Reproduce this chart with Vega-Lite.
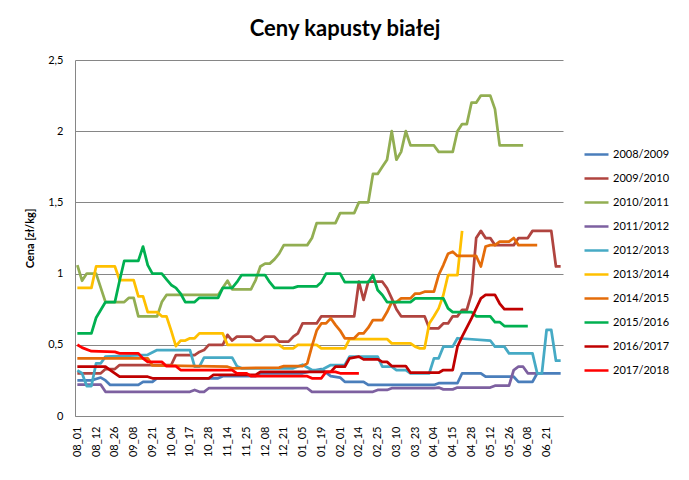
{
  "$schema": "https://vega.github.io/schema/vega-lite/v6.json",
  "width": 488,
  "height": 356,
  "autosize": "none",
  "padding": {"left": 75, "top": 60, "right": 126, "bottom": 64},
  "background": "white",
  "title": {"text": "Ceny kapusty białej", "font": "Lato", "fontSize": 22, "fontWeight": "bold", "color": "#000000", "anchor": "middle", "dx": 26, "offset": 13},
  "config": {"view": {"stroke": null}, "font": "Lato"},
  "data": {"values": []},
  "datasets": {
    "pts": [
      {"s":"2008/2009","p":[[0,0.25],[3,0.25],[5,0.27],[6,0.25],[7,0.218],[13,0.218],[14,0.24],[16,0.24],[17,0.265],[30,0.265],[31,0.28],[38,0.28],[39,0.3],[48,0.3],[52,0.33],[54,0.28],[56,0.27],[57,0.24],[61,0.24],[62,0.218],[76,0.218],[77,0.23],[81,0.23],[82,0.3],[86,0.3],[87,0.276],[93,0.276],[94,0.24],[97,0.24],[98,0.3],[103,0.3]]},
      {"s":"2009/2010","p":[[0,0.3],[5,0.3],[6,0.33],[8,0.33],[9,0.358],[20,0.358],[21,0.428],[25,0.428],[26,0.45],[27,0.463],[28,0.5],[31,0.5],[32,0.57],[33,0.53],[34,0.557],[37,0.557],[38,0.53],[39,0.53],[40,0.557],[42,0.557],[43,0.522],[45,0.522],[46,0.557],[47,0.58],[48,0.65],[51,0.65],[52,0.7],[59,0.7],[60,0.943],[61,0.815],[62,0.943],[65,0.943],[66,0.897],[67,0.826],[68,0.75],[69,0.7],[74,0.7],[75,0.616],[77,0.616],[78,0.65],[79,0.65],[80,0.7],[81,0.7],[82,0.745],[83,0.745],[84,0.86],[85,1.25],[86,1.3],[87,1.25],[88,1.25],[89,1.2],[93,1.2],[94,1.25],[96,1.25],[97,1.3],[101,1.3],[102,1.05],[103,1.05]]},
      {"s":"2010/2011","p":[[0,1.06],[1,0.95],[2,1.0],[4,1.0],[6,0.8],[10,0.8],[11,0.83],[12,0.83],[13,0.7],[17,0.7],[18,0.8],[19,0.85],[30,0.85],[31,0.9],[32,0.95],[33,0.89],[37,0.89],[38,0.955],[39,1.05],[40,1.07],[41,1.07],[42,1.1],[43,1.14],[44,1.2],[49,1.2],[50,1.25],[51,1.355],[55,1.355],[56,1.425],[59,1.425],[60,1.5],[62,1.5],[63,1.7],[64,1.7],[65,1.75],[66,1.8],[67,2.0],[68,1.8],[69,1.855],[70,2.0],[71,1.9],[76,1.9],[77,1.855],[80,1.855],[81,2.0],[82,2.05],[83,2.05],[84,2.2],[85,2.2],[86,2.25],[88,2.25],[89,2.155],[90,1.9],[95,1.9]]},
      {"s":"2011/2012","p":[[0,0.22],[5,0.22],[6,0.17],[24,0.17],[25,0.183],[26,0.17],[27,0.17],[28,0.195],[49,0.195],[50,0.17],[63,0.17],[64,0.183],[66,0.183],[67,0.195],[76,0.195],[77,0.2],[78,0.187],[80,0.187],[81,0.2],[88,0.2],[89,0.213],[92,0.213],[93,0.323],[94,0.346],[95,0.346],[96,0.3],[98,0.3]]},
      {"s":"2012/2013","p":[[0,0.32],[1,0.3],[2,0.21],[3,0.21],[4,0.37],[5,0.37],[6,0.417],[15,0.43],[17,0.463],[24,0.463],[25,0.346],[26,0.346],[27,0.41],[33,0.41],[34,0.35],[35,0.335],[46,0.335],[48,0.36],[50,0.323],[52,0.323],[54,0.358],[57,0.358],[58,0.417],[64,0.417],[65,0.346],[67,0.346],[68,0.323],[70,0.323],[71,0.3],[75,0.3],[76,0.405],[77,0.405],[78,0.487],[80,0.487],[81,0.546],[88,0.53],[89,0.487],[91,0.487],[92,0.44],[97,0.44],[98,0.3],[99,0.3],[100,0.604],[101,0.604],[102,0.388],[103,0.388]]},
      {"s":"2013/2014","p":[[0,0.9],[3,0.9],[4,1.05],[8,1.05],[9,0.955],[12,0.955],[13,0.84],[14,0.84],[15,0.73],[17,0.73],[18,0.7],[19,0.7],[20,0.6],[21,0.49],[22,0.53],[23,0.53],[24,0.546],[25,0.546],[26,0.58],[31,0.58],[32,0.5],[43,0.5],[44,0.475],[46,0.475],[47,0.5],[51,0.5],[52,0.475],[57,0.475],[58,0.54],[66,0.54],[67,0.51],[71,0.51],[72,0.487],[73,0.475],[74,0.475],[75,0.65],[76,0.7],[77,0.756],[78,0.85],[79,0.99],[81,0.99],[82,1.3]]},
      {"s":"2014/2015","p":[[0,0.405],[15,0.405],[16,0.355],[32,0.346],[33,0.335],[43,0.34],[44,0.35],[48,0.35],[49,0.37],[50,0.49],[51,0.6],[52,0.65],[53,0.65],[54,0.686],[55,0.64],[56,0.6],[57,0.546],[59,0.546],[60,0.58],[61,0.58],[62,0.62],[63,0.674],[65,0.674],[66,0.73],[67,0.8],[68,0.8],[69,0.826],[71,0.826],[72,0.86],[73,0.86],[74,0.873],[76,0.873],[77,0.99],[78,1.06],[79,1.14],[80,1.154],[81,1.124],[85,1.124],[86,1.05],[87,1.19],[88,1.2],[89,1.2],[90,1.225],[92,1.225],[93,1.25],[94,1.2],[98,1.2]]},
      {"s":"2015/2016","p":[[0,0.58],[3,0.58],[4,0.69],[6,0.8],[8,0.8],[9,0.95],[10,1.09],[13,1.09],[14,1.19],[15,1.06],[16,1.0],[18,1.0],[19,0.96],[20,0.92],[21,0.9],[22,0.86],[23,0.8],[25,0.8],[26,0.83],[30,0.83],[31,0.9],[33,0.9],[34,0.94],[35,0.99],[40,0.99],[41,0.94],[42,0.9],[46,0.9],[47,0.91],[51,0.91],[52,0.94],[53,1.0],[56,1.0],[57,0.94],[62,0.94],[63,0.99],[64,0.885],[65,0.85],[66,0.8],[71,0.8],[72,0.826],[78,0.826],[79,0.756],[80,0.73],[84,0.73],[85,0.7],[88,0.7],[89,0.66],[90,0.66],[91,0.632],[96,0.632]]},
      {"s":"2016/2017","p":[[0,0.346],[6,0.346],[7,0.323],[8,0.3],[9,0.276],[15,0.276],[16,0.265],[28,0.265],[29,0.288],[38,0.288],[39,0.31],[54,0.31],[55,0.346],[57,0.346],[58,0.405],[60,0.417],[61,0.398],[64,0.398],[65,0.38],[66,0.38],[67,0.351],[70,0.351],[71,0.304],[77,0.304],[78,0.323],[80,0.323],[81,0.487],[82,0.557],[84,0.686],[86,0.826],[87,0.85],[89,0.85],[90,0.79],[91,0.75],[95,0.75]]},
      {"s":"2017/2018","p":[[0,0.5],[1,0.48],[3,0.455],[8,0.45],[9,0.44],[13,0.44],[14,0.405],[15,0.38],[18,0.38],[19,0.35],[21,0.35],[22,0.323],[33,0.323],[34,0.3],[36,0.3],[37,0.28],[49,0.28],[50,0.265],[52,0.265],[53,0.31],[55,0.31],[56,0.3],[60,0.3]]}
    ]
  },
  "layer": [
    {
      "data": {"name": "pts"},
      "transform": [
        {"flatten": ["p"]},
        {"calculate": "datum.p[0]", "as": "t"},
        {"calculate": "datum.p[1]", "as": "v"}
      ],
      "mark": {"type": "line", "strokeWidth": 2.75, "strokeJoin": "round", "strokeCap": "butt"},
      "encoding": {
        "x": {"field": "t", "type": "quantitative", "scale": {"domain": [-0.5, 103.5], "nice": false, "zero": false},
          "axis": {"values": [0,4,8,12,16,20,24,28,32,36,40,44,48,52,56,60,64,68,72,76,80,84,88,92,96,100],
            "labelExpr": "['08_01','08_12','08_26','09_08','09_21','10_04','10_17','10_28','11_14','11_25','12_08','12_21','01_05','01_19','02_01','02_14','02_25','03_10','03_23','04_04','04_15','04_28','05_12','05_26','06_08','06_21'][round(datum.value/4)]",
            "labelAngle": 270, "labelFontSize": 11, "labelColor": "#000000", "labelPadding": 10, "labelFont": "Lato",
            "ticks": false, "grid": false, "domainColor": "#868686", "domainWidth": 1, "title": null, "labelOverlap": false}},
        "y": {"field": "v", "type": "quantitative", "scale": {"domain": [0, 2.5], "nice": false},
          "axis": {"values": [0,0.5,1,1.5,2,2.5], "labelExpr": "replace(toString(datum.value), '.', ',')",
            "labelFontSize": 11, "labelColor": "#000000", "labelPadding": 12, "labelFont": "Lato",
            "ticks": false, "grid": true, "gridColor": "#868686", "gridWidth": 1, "domainColor": "#868686",
            "title": "Cena [zł/kg]", "titleFontSize": 11, "titleFontWeight": "bold", "titleColor": "#000000", "titlePadding": 12, "titleFont": "Lato"}},
        "color": {"field": "s", "type": "nominal",
          "scale": {"domain": ["2008/2009","2009/2010","2010/2011","2011/2012","2012/2013","2013/2014","2014/2015","2015/2016","2016/2017","2017/2018"],
            "range": ["#4A7EBB","#B0443F","#92AE52","#7D60A0","#46AAC5","#FFC000","#E46C0A","#00B050","#C00000","#FF0000"]},
          "legend": {"orient": "none", "legendX": 508, "legendY": 81, "title": null, "symbolType": "stroke", "symbolSize": 576, "symbolStrokeWidth": 2.5,
            "rowPadding": 5, "labelFontSize": 11, "labelFont": "Lato", "labelColor": "#000000", "labelOffset": 3}},
        "detail": {"field": "s"}
      }
    }
  ]
}
